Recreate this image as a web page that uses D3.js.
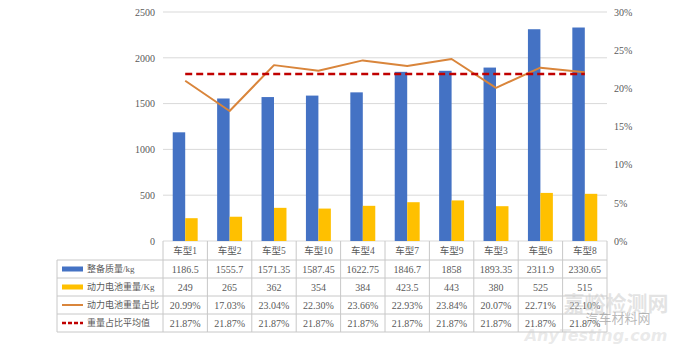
<!DOCTYPE html>
<html><head><meta charset="utf-8">
<script src="https://cdn.jsdelivr.net/npm/d3@7"></script>
<style>body{margin:0;background:#fff}svg{display:block}</style>
</head><body><svg id="c" width="680" height="345"></svg>
<script>
const categories = ["车型1","车型2","车型5","车型10","车型4","车型7","车型9","车型3","车型6","车型8"];
const curbMass = [1186.5,1555.7,1571.35,1587.45,1622.75,1846.7,1858,1893.35,2311.9,2330.65];
const batteryMass = [249,265,362,354,384,423.5,443,380,525,515];
const batteryRatio = [20.99,17.03,23.04,22.30,23.66,22.93,23.84,20.07,22.71,22.10];
const ratioAverage = [21.87,21.87,21.87,21.87,21.87,21.87,21.87,21.87,21.87,21.87];
const seriesNames = ["整备质量/kg","动力电池重量/Kg","动力电池重量占比","重量占比平均值"];
const leftTicks = [0,500,1000,1500,2000,2500];
const rightTicks = [0,5,10,15,20,25,30];

const svg = d3.select("#c");
const font = "'Liberation Serif','Noto Sans CJK SC',serif";
const txt = "#595959", grid = "#D9D9D9", border = "#C8C8C8";
const blue = "#4472C4", yellow = "#FFC000", orange = "#D9853B", red = "#C00000";

const X0 = 163, X1 = 607, Y0 = 241, Y1 = 12;
const x = d3.scaleBand().domain(categories).range([X0, X1]).paddingInner(0).paddingOuter(0);
const yL = d3.scaleLinear().domain([0,2500]).range([Y0, Y1]);
const yR = d3.scaleLinear().domain([0,30]).range([Y0, Y1]);
const xs = d3.scaleBand().domain([0,1]).range([0, x.bandwidth()]).paddingInner(0).paddingOuter(0.78);

// gridlines
svg.append("g").selectAll("line").data(leftTicks).join("line")
  .attr("x1", X0).attr("x2", X1).attr("y1", d=>yL(d)).attr("y2", d=>yL(d))
  .attr("stroke", grid).attr("stroke-width", 1);

// left axis labels
const la = svg.append("g").attr("transform", `translate(${X0},0)`)
  .call(d3.axisLeft(yL).tickValues(leftTicks).tickFormat(d3.format("d")).tickSize(0).tickPadding(8));
la.select(".domain").remove();
la.selectAll("text").attr("font-family", font).attr("font-size", 10).attr("fill", txt);

// right axis labels
const ra = svg.append("g").attr("transform", `translate(${X1},0)`)
  .call(d3.axisRight(yR).tickValues(rightTicks).tickFormat(d=>d+"%").tickSize(0).tickPadding(7));
ra.select(".domain").remove();
ra.selectAll("text").attr("font-family", font).attr("font-size", 10).attr("fill", txt);

// bars
svg.append("g").selectAll("rect").data(curbMass).join("rect")
  .attr("x", (d,i)=>x(categories[i]) + xs(0)).attr("width", xs.bandwidth())
  .attr("y", d=>yL(d)).attr("height", d=>Y0 - yL(d)).attr("fill", blue);
svg.append("g").selectAll("rect").data(batteryMass).join("rect")
  .attr("x", (d,i)=>x(categories[i]) + xs(1)).attr("width", xs.bandwidth())
  .attr("y", d=>yL(d)).attr("height", d=>Y0 - yL(d)).attr("fill", yellow);

// lines
const cx = i => x(categories[i]) + x.bandwidth()/2;
const lineR = d3.line().x((d,i)=>cx(i)).y(d=>yR(d));
svg.append("path").datum(batteryRatio).attr("d", lineR)
  .attr("fill","none").attr("stroke", orange).attr("stroke-width", 2).attr("stroke-linejoin","round");
svg.append("path").datum(ratioAverage).attr("d", lineR)
  .attr("fill","none").attr("stroke", red).attr("stroke-width", 2.5).attr("stroke-dasharray","7,4");

// data table
const LX = 57;
const rowY = [241, 260, 278, 296, 314, 332];
const tg = svg.append("g");
tg.selectAll("line.h").data(rowY.slice(1)).join("line").attr("class","h")
  .attr("x1", LX).attr("x2", X1).attr("y1", d=>d).attr("y2", d=>d)
  .attr("stroke", border).attr("stroke-width", 1);
const vx = categories.map(c=>x(c)).concat([X1]);
tg.selectAll("line.v").data(vx).join("line").attr("class","v")
  .attr("x1", d=>d).attr("x2", d=>d).attr("y1", Y0).attr("y2", rowY[5])
  .attr("stroke", border).attr("stroke-width", 1);
tg.append("line").attr("x1", LX).attr("x2", LX).attr("y1", rowY[1]).attr("y2", rowY[5])
  .attr("stroke", border).attr("stroke-width", 1);
tg.selectAll("text.cat").data(categories).join("text").attr("class","cat")
  .attr("x", (d,i)=>cx(i)).attr("y", (rowY[0]+rowY[1])/2 + 3.5)
  .attr("text-anchor","middle").attr("font-family", font).attr("font-size", 9.5).attr("fill", txt)
  .text(d=>d);
const rows = [
  curbMass.map(v=>String(v)),
  batteryMass.map(v=>String(v)),
  batteryRatio.map(v=>v.toFixed(2)+"%"),
  ratioAverage.map(v=>v.toFixed(2)+"%")
];
rows.forEach((r, ri) => {
  const yc = (rowY[ri+1] + rowY[ri+2]) / 2;
  tg.append("g").selectAll("text").data(r).join("text")
    .attr("x", (d,i)=>cx(i)).attr("y", yc + 3.5)
    .attr("text-anchor","middle").attr("font-family", font).attr("font-size", 10).attr("fill", txt)
    .text(d=>d);
  const kx1 = 62, kx2 = 83;
  if (ri === 0 || ri === 1) {
    tg.append("rect").attr("x", kx1).attr("y", yc - 2.5).attr("width", kx2-kx1).attr("height", 5)
      .attr("fill", ri === 0 ? blue : yellow);
  } else if (ri === 2) {
    tg.append("line").attr("x1", kx1).attr("x2", kx2).attr("y1", yc).attr("y2", yc)
      .attr("stroke", orange).attr("stroke-width", 2);
  } else {
    tg.append("line").attr("x1", kx1).attr("x2", kx2).attr("y1", yc).attr("y2", yc)
      .attr("stroke", red).attr("stroke-width", 2.5).attr("stroke-dasharray","4,2");
  }
  tg.append("text").attr("x", 87).attr("y", yc + 3.3)
    .attr("font-family", font).attr("font-size", 9).attr("fill", txt).text(seriesNames[ri]);
});

// watermark
const wm = svg.append("g").attr("pointer-events","none");
wm.append("text").attr("x", 616).attr("y", 311).attr("text-anchor","middle")
  .attr("font-family","'Noto Sans CJK SC',sans-serif").attr("font-size", 21).attr("font-weight","bold")
  .attr("fill","#c8c8c8").attr("fill-opacity",0.5).text("嘉峪检测网");
wm.append("text").attr("x", 618).attr("y", 323).attr("text-anchor","middle")
  .attr("font-family","'Noto Sans CJK SC',sans-serif").attr("font-size", 13)
  .attr("fill","#9a9a9a").attr("fill-opacity",0.7).text("汽车材料网");
wm.append("text").attr("x", 596).attr("y", 341).attr("text-anchor","middle")
  .attr("font-family","'DejaVu Sans',sans-serif").attr("font-size", 16).attr("font-style","italic").attr("font-weight","bold")
  .attr("fill","#d0d0d0").attr("fill-opacity",0.45).text("AnyTesting.com");
</script></body></html>
